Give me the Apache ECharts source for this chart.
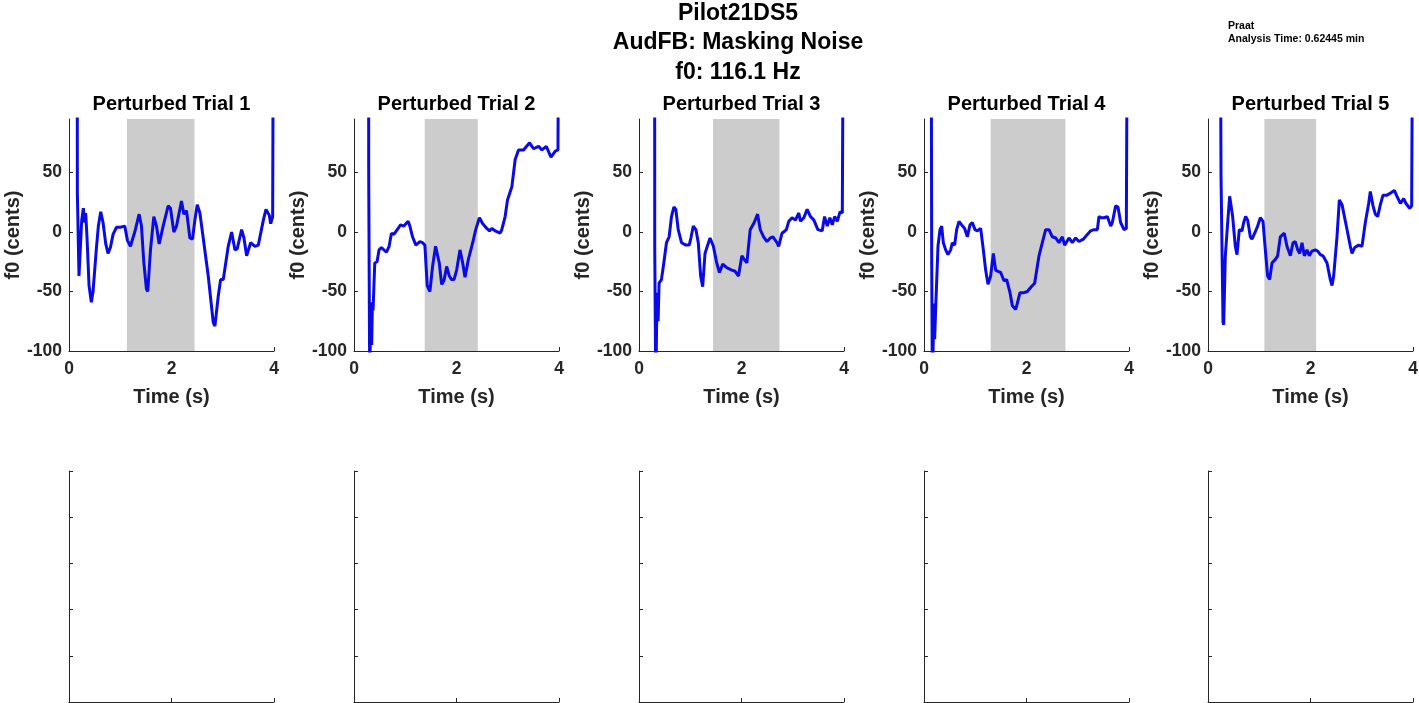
<!DOCTYPE html>
<html>
<head>
<meta charset="utf-8">
<title>Pilot21DS5</title>
<script src="https://cdn.jsdelivr.net/npm/echarts@6.0.0/dist/echarts.min.js"></script>
<style>
    html, body {margin: 0; padding: 0; background: #fff;}
    #chart {width: 1419px; height: 703px;}
</style>
</head>
<body>
<div id="chart"></div>
<script>
// f0 traces, [time (s), f0 (cents)]; 200 / -130 mean the trace leaves the axes
let trial1 = [[0.160, 200], [0.163, 33], [0.195, -37], [0.248, 10], [0.280, 20], [0.306, 8], [0.326, 16], [0.352, -5],
    [0.391, -45], [0.436, -59], [0.469, -50], [0.534, -14], [0.573, 5], [0.619, 17], [0.664, 8], [0.717, -10],
    [0.762, -18], [0.808, -13], [0.860, -2], [0.925, 4], [1.003, 4], [1.088, 5], [1.140, -7], [1.199, -12],
    [1.283, 0], [1.368, 15], [1.414, 5], [1.459, -25], [1.511, -48], [1.537, -50], [1.590, -15], [1.655, 13],
    [1.707, 5], [1.759, -10], [1.837, 5], [1.935, 22], [1.980, 20], [2.046, 0], [2.098, 5], [2.195, 26],
    [2.241, 15], [2.293, 18], [2.358, -5], [2.410, -6], [2.456, 10], [2.502, 23], [2.554, 16], [2.619, -5],
    [2.717, -37], [2.814, -76], [2.847, -79], [2.912, -54], [2.958, -40], [3.010, -40], [3.107, -12], [3.173, 0],
    [3.238, -15], [3.283, -14], [3.368, 2], [3.414, -5], [3.466, -20], [3.544, -9], [3.629, -12], [3.694, -11],
    [3.792, 10], [3.844, 19], [3.909, 14], [3.935, 7], [3.974, 13], [3.987, 200]];

let trial2 = [[0.285, 200], [0.287, 49], [0.307, -130], [0.326, -60], [0.345, -95], [0.359, -59], [0.372, -66],
    [0.405, -26], [0.450, -25], [0.489, -15], [0.535, -13], [0.633, -17], [0.685, -12], [0.731, -1], [0.777, -2],
    [0.861, 3], [0.907, 6], [0.972, 5], [1.057, 9], [1.090, 5], [1.142, -4], [1.207, -11], [1.285, -8],
    [1.338, -9], [1.383, -11], [1.429, -45], [1.481, -50], [1.533, -29], [1.592, -12], [1.664, -26], [1.710, -44],
    [1.755, -41], [1.808, -29], [1.860, -37], [1.905, -40], [1.951, -40], [2.003, -32], [2.068, -15], [2.121, -26],
    [2.166, -38], [2.232, -23], [2.316, -9], [2.375, 2], [2.447, 12], [2.512, 7], [2.591, 3], [2.643, 1],
    [2.688, 3], [2.754, 1], [2.852, -1], [2.884, 2], [2.949, 13], [2.995, 27], [3.080, 38], [3.145, 61],
    [3.210, 69], [3.308, 69], [3.426, 75], [3.504, 70], [3.602, 72], [3.667, 69], [3.752, 72], [3.843, 63],
    [3.863, 62], [3.928, 68], [3.980, 69], [3.993, 200]];

let trial3 = [[0.305, 200], [0.307, -12], [0.327, -130], [0.353, -51], [0.373, -75], [0.392, -43], [0.438, -40],
    [0.484, -26], [0.536, -9], [0.588, -4], [0.634, 13], [0.680, 21], [0.719, 19], [0.765, 2], [0.830, -9],
    [0.915, -11], [0.980, -11], [1.013, -5], [1.059, 5], [1.111, 2], [1.157, -9], [1.203, -37], [1.242, -46],
    [1.288, -18], [1.333, -12], [1.386, -5], [1.451, -12], [1.516, -26], [1.569, -34], [1.634, -27], [1.712, -30],
    [1.810, -32], [1.876, -33], [1.941, -37], [2.007, -20], [2.052, -23], [2.105, -26], [2.170, 2], [2.248, 8],
    [2.314, 15], [2.366, 2], [2.431, -4], [2.497, -8], [2.562, -5], [2.614, -4], [2.693, -9], [2.725, -12],
    [2.791, -1], [2.876, 2], [2.922, 9], [2.987, 12], [3.052, 10], [3.118, 16], [3.150, 9], [3.216, 12],
    [3.281, 19], [3.346, 13], [3.412, 10], [3.490, 2], [3.575, 1], [3.621, 13], [3.673, 5], [3.725, 12],
    [3.771, 6], [3.817, 13], [3.869, 9], [3.922, 17], [3.967, 16], [3.987, 200]];

let trial4 = [[0.140, 200], [0.150, -20], [0.163, -130], [0.195, -60], [0.208, -90], [0.234, -57], [0.273, -12],
    [0.312, 2], [0.345, 5], [0.377, -9], [0.423, -15], [0.468, -19], [0.520, -15], [0.553, -9], [0.598, -11],
    [0.637, 2], [0.683, 9], [0.735, 6], [0.793, 3], [0.846, -4], [0.898, 6], [0.943, 8], [0.995, 2],
    [1.041, 1], [1.106, 3], [1.158, -15], [1.203, -32], [1.249, -44], [1.301, -37], [1.353, -18], [1.398, -32],
    [1.444, -33], [1.496, -34], [1.561, -41], [1.613, -40], [1.678, -51], [1.724, -62], [1.789, -65], [1.821, -60],
    [1.873, -51], [1.951, -51], [2.016, -50], [2.094, -46], [2.159, -43], [2.244, -20], [2.309, -9], [2.374, 2],
    [2.439, 2], [2.504, -4], [2.569, -5], [2.634, -9], [2.699, -4], [2.745, -11], [2.829, -5], [2.894, -9],
    [2.959, -5], [3.024, -8], [3.109, -6], [3.187, -2], [3.252, 1], [3.317, 2], [3.382, 2], [3.415, 13],
    [3.460, 12], [3.512, 12], [3.577, 13], [3.642, 5], [3.675, 8], [3.740, 22], [3.785, 21], [3.837, 8],
    [3.902, 2], [3.948, 3], [3.967, 200]];

let trial5 = [[0.240, 200], [0.254, 47], [0.293, -76], [0.306, -78], [0.338, -20], [0.384, 8], [0.423, 30],
    [0.449, 30], [0.481, 13], [0.533, -12], [0.566, -19], [0.611, 2], [0.663, 1], [0.696, 8], [0.735, 13],
    [0.774, 10], [0.826, -4], [0.858, -6], [0.911, -1], [0.969, 5], [1.021, 12], [1.073, 9], [1.119, -15],
    [1.164, -37], [1.203, -40], [1.249, -26], [1.314, -23], [1.359, -20], [1.411, -4], [1.489, -1], [1.541, -12],
    [1.607, -20], [1.659, -9], [1.704, -8], [1.750, -15], [1.789, -18], [1.834, -9], [1.880, -20], [1.932, -15],
    [1.977, -20], [2.029, -16], [2.094, -15], [2.140, -16], [2.192, -19], [2.244, -20], [2.322, -26], [2.387, -40],
    [2.420, -45], [2.452, -37], [2.517, -4], [2.563, 27], [2.615, 23], [2.699, 5], [2.777, -12], [2.810, -18],
    [2.862, -13], [2.940, -11], [3.005, -12], [3.070, 8], [3.135, 24], [3.167, 34], [3.220, 22], [3.265, 15],
    [3.311, 13], [3.363, 23], [3.415, 31], [3.493, 31], [3.571, 33], [3.636, 35], [3.688, 30], [3.753, 24],
    [3.818, 28], [3.863, 24], [3.935, 20], [3.974, 22], [3.993, 200]];

let trials = [trial1, trial2, trial3, trial4, trial5];
let trialTitles = ['Perturbed Trial 1', 'Perturbed Trial 2', 'Perturbed Trial 3', 'Perturbed Trial 4', 'Perturbed Trial 5'];

// perturbation window (s)
let shadeStart = [1.13, 1.38, 1.445, 1.30, 1.10];
let shadeEnd = [2.45, 2.415, 2.74, 2.76, 2.11];

let f0Ticks = [-100, -50, 0, 50];
let f0Range = [-100, 95];
let timeRange = [0, 4];

let titleLines = ['Pilot21DS5', 'AudFB: Masking Noise', 'f0: 116.1 Hz'];
let noteLines = ['Praat', 'Analysis Time: 0.62445 min'];

let chart = echarts.init(document.getElementById('chart'), null, {renderer: 'canvas'});

let fontFamily = '"Liberation Sans", Arial, Helvetica, sans-serif';
let axisColor = '#262626';
let traceColor = '#0a0ae6';

let panelLefts = [69, 354, 639, 924, 1208];
let panelWidth = 205;

function makeGrid(left, top, height) {
    return {
        left: left,
        top: top,
        width: panelWidth,
        height: height,
        containLabel: false,
        outerBoundsMode: 'none'
    };
}

function makeAxisBase(gridIndex, opt) {
    return echarts.util.merge({
        type: 'value',
        gridIndex: gridIndex,
        axisLine: {show: true, onZero: false, lineStyle: {color: axisColor, width: 1}},
        axisTick: {show: true, inside: true, length: 4, lineStyle: {color: axisColor, width: 1}},
        splitLine: {show: false},
        axisLabel: {show: false}
    }, opt || {}, true);
}

let option = {
    animation: false,
    backgroundColor: '#fff',
    textStyle: {fontFamily: fontFamily},
    grid: [],
    xAxis: [],
    yAxis: [],
    series: [],
    graphic: []
};

let labelStyle = {
    show: true,
    color: axisColor,
    fontFamily: fontFamily,
    fontWeight: 'bold',
    fontSize: 17.5
};
let nameStyle = {
    color: axisColor,
    fontFamily: fontFamily,
    fontWeight: 'bold',
    fontSize: 20
};

// upper row: f0 traces
panelLefts.forEach(function (left, i) {
    option.grid.push(makeGrid(left, 119, 232));
    option.xAxis.push(makeAxisBase(i, {
        min: timeRange[0],
        max: timeRange[1],
        interval: 2,
        name: 'Time (s)',
        nameLocation: 'middle',
        nameGap: 36,
        nameTextStyle: nameStyle,
        axisLabel: echarts.util.merge({margin: 9}, labelStyle)
    }));
    option.yAxis.push(makeAxisBase(i, {
        min: f0Range[0],
        max: f0Range[1],
        interval: 50,
        name: 'f0 (cents)',
        nameLocation: 'middle',
        nameRotate: 90,
        nameGap: 44,
        nameTextStyle: nameStyle,
        axisTick: {customValues: f0Ticks},
        axisLabel: echarts.util.merge({margin: 7, customValues: f0Ticks}, labelStyle)
    }));
    option.series.push({
        type: 'line',
        xAxisIndex: i,
        yAxisIndex: i,
        data: trials[i],
        showSymbol: false,
        symbol: 'none',
        clip: true,
        z: 3,
        lineStyle: {color: traceColor, width: 3},
        markArea: {
            silent: true,
            itemStyle: {color: '#cccccc', opacity: 1},
            data: [[{xAxis: shadeStart[i]}, {xAxis: shadeEnd[i]}]]
        }
    });
    option.graphic.push({
        type: 'text',
        x: left + panelWidth / 2,
        y: 104,
        style: {
            text: trialTitles[i],
            align: 'center',
            verticalAlign: 'middle',
            fill: '#000',
            font: 'bold 20px ' + fontFamily
        }
    });
});

// lower row: empty axes
panelLefts.forEach(function (left, i) {
    let idx = i + 5;
    option.grid.push(makeGrid(left, 471, 231));
    option.xAxis.push(makeAxisBase(idx, {min: 0, max: 1, interval: 0.5}));
    option.yAxis.push(makeAxisBase(idx, {min: 0, max: 1, interval: 0.2}));
});

titleLines.forEach(function (line, i) {
    option.graphic.push({
        type: 'text',
        x: 738,
        y: 13.5 + i * 29.5,
        style: {
            text: line,
            align: 'center',
            verticalAlign: 'middle',
            fill: '#000',
            font: 'bold 23px ' + fontFamily
        }
    });
});

noteLines.forEach(function (line, i) {
    option.graphic.push({
        type: 'text',
        x: 1228,
        y: 26 + i * 13,
        style: {
            text: line,
            align: 'left',
            verticalAlign: 'middle',
            fill: '#000',
            font: 'bold 10.5px ' + fontFamily
        }
    });
});

chart.setOption(option);
</script>
</body>
</html>
